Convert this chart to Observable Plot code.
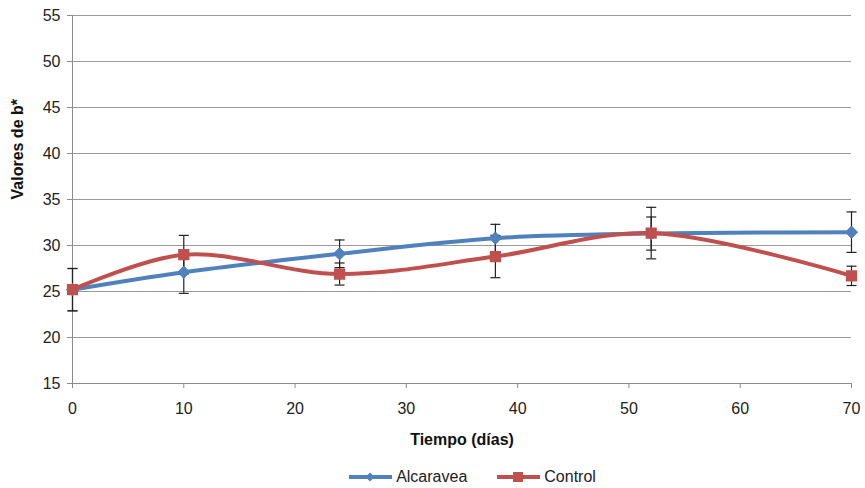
<!DOCTYPE html>
<html><head><meta charset="utf-8">
<script src="https://cdn.jsdelivr.net/npm/d3@7"></script>
<script src="https://cdn.jsdelivr.net/npm/@observablehq/plot@0.6"></script>
<style>
body{margin:0;background:#fff;font-family:"Liberation Sans",Arial,sans-serif;}
#legend{display:flex;justify-content:center;align-items:center;height:26px;padding-left:80px;padding-top:2px;font-size:16px;color:#222;}
#legend .item{display:flex;align-items:center;margin:0 15px;}
#legend svg{margin-right:4px;}
</style></head><body>
<div id="chart"></div>
<div id="legend"></div>
<script>
const dias = [0, 10, 24, 38, 52, 70];
const alcaravea = [25.2, 27.1, 29.1, 30.8, 31.3, 31.45];
const alcaraveaErr = [2.3, 2.3, 1.5, 1.5, 1.8, 2.2];
const control = [25.2, 29.0, 26.9, 28.8, 31.35, 26.7];
const controlErr = [2.3, 2.1, 1.2, 2.3, 2.8, 1.05];
const yTicks = [15, 20, 25, 30, 35, 40, 45, 50, 55];
const xTicks = [0, 10, 20, 30, 40, 50, 60, 70];
const seriesNames = ["Alcaravea", "Control"];
const colors = ["#4F81BD", "#C0504D"];

const rows = [];
dias.forEach((d, i) => {
  rows.push({serie: seriesNames[0], x: d, y: alcaravea[i], e: alcaraveaErr[i]});
  rows.push({serie: seriesNames[1], x: d, y: control[i], e: controlErr[i]});
});
const rowsA = rows.filter(r => r.serie === seriesNames[0]);
const rowsC = rows.filter(r => r.serie === seriesNames[1]);
const caps = rows.flatMap(r => [{x: r.x, y: r.y - r.e}, {x: r.x, y: r.y + r.e}]);

const capSymbol = {draw(context, size) { const r = Math.sqrt(size / Math.PI); context.moveTo(-r, 0); context.lineTo(r, 0); }};

const chart = Plot.plot({
  width: 865, height: 462,
  marginLeft: 72, marginRight: 14, marginTop: 15, marginBottom: 79,
  style: {fontFamily: '"Liberation Sans", Arial, sans-serif', fontSize: "16px", color: "#222", background: "white", overflow: "visible"},
  x: {domain: [0, 70]},
  y: {domain: [15, 55]},
  marks: [
    Plot.gridY(yTicks, {stroke: "#9a9a9a", strokeOpacity: 1}),
    Plot.ruleX([0], {stroke: "#8c8c8c"}),
    Plot.ruleY([15], {stroke: "#8c8c8c"}),
    Plot.axisY({ticks: yTicks, tickSize: 5, tickPadding: 7, label: null, stroke: "#8c8c8c", fontSize: 16}),
    Plot.axisX({ticks: xTicks, tickSize: 5, tickPadding: 14, label: null, stroke: "#8c8c8c", fontSize: 16}),
    Plot.line(rowsA, {x: "x", y: "y", stroke: colors[0], strokeWidth: 4, curve: "catmull-rom"}),
    Plot.line(rowsC, {x: "x", y: "y", stroke: colors[1], strokeWidth: 4, curve: "catmull-rom"}),
    Plot.ruleX(rows, {x: "x", y1: d => d.y - d.e, y2: d => d.y + d.e, stroke: "#222", strokeWidth: 1.2}),
    Plot.dot(caps, {x: "x", y: "y", symbol: capSymbol, r: 5, stroke: "#222", strokeWidth: 1.2, fill: "none"}),
    Plot.dot(rowsA, {x: "x", y: "y", symbol: "diamond2", r: 5.5, fill: colors[0], stroke: colors[0], strokeWidth: 1}),
    Plot.dot(rowsC, {x: "x", y: "y", symbol: "square", r: 5.5, fill: colors[1], stroke: colors[1]}),
    Plot.text(["Valores de b*"], {text: d => d, frameAnchor: "left", dx: -55, rotate: -90, fontWeight: "bold", fontSize: 16, fill: "#111"}),
    Plot.text(["Tiempo (días)"], {text: d => d, frameAnchor: "bottom", dy: 61, fontWeight: "bold", fontSize: 16, fill: "#111"})
  ]
});
document.getElementById("chart").appendChild(chart);

const legend = document.getElementById("legend");
seriesNames.forEach((name, i) => {
  const item = document.createElement("div");
  item.className = "item";
  const marker = i === 0
    ? `<polygon points="21,1.5 25.5,6 21,10.5 16.5,6" fill="${colors[i]}"/>`
    : `<rect x="16" y="1" width="10" height="10" fill="${colors[i]}"/>`;
  item.innerHTML = `<svg width="43" height="12"><line x1="0" y1="6" x2="43" y2="6" stroke="${colors[i]}" stroke-width="4"/>${marker}</svg><span>${name}</span>`;
  legend.appendChild(item);
});
</script></body></html>
